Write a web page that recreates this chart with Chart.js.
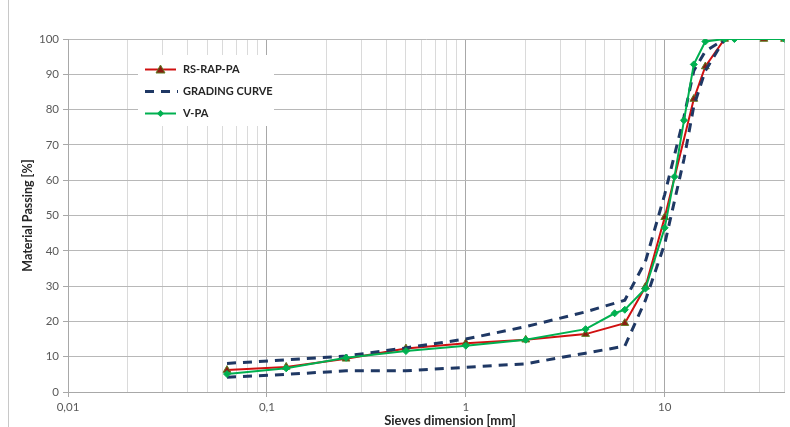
<!DOCTYPE html>
<html>
<head>
<meta charset="utf-8">
<script src="https://cdn.jsdelivr.net/npm/chart.js@4/dist/chart.umd.min.js"></script>
<style>
  html, body { margin: 0; padding: 0; background: #ffffff; }
  #wrap { position: relative; width: 790px; height: 427px; overflow: hidden; }
  #frame { position: absolute; left: 8px; top: 0; width: 1px; height: 427px; background: #c8c8c8; }
  canvas { position: absolute; left: 0; top: 0; }
</style>
</head>
<body>
<div id="wrap">
  <canvas id="c" width="790" height="427"></canvas>
  <div id="frame"></div>
</div>
<script>
// ---- data ----
const seriesNames = ['RS-RAP-PA', 'GRADING CURVE', 'V-PA'];

const rsSieves  = [0.063, 0.125, 0.25, 0.5, 1, 2, 4, 6.3, 8, 10, 14, 16, 20, 31.5, 40];
const rsPassing = [6.2, 7.1, 9.4, 12.3, 13.8, 14.8, 16.4, 19.5, 29.8, 49.5, 83, 92.2, 100, 100, 100];

const vpaSieves  = [0.063, 0.125, 0.25, 0.5, 1, 2, 4, 5.6, 6.3, 8, 10, 11.2, 12.5, 14, 16, 20, 22.4, 40];
const vpaPassing = [5.1, 6.7, 9.7, 11.6, 13.1, 14.8, 17.8, 22.3, 23.3, 29.3, 46.5, 61, 77, 92.8, 99.3, 100, 100, 100];

const gradingSieves = [0.063, 0.125, 0.25, 0.5, 1, 2, 4, 6.3, 8, 10, 12.5, 14, 16, 20];
const gradingUpper  = [8.1, 9.1, 10.2, 12.5, 15, 18.5, 22.7, 26, 37, 56, 78, 91, 96.5, 100];
const gradingLower  = [4.2, 5, 6, 6, 7, 8, 11, 13, 26, 42, 66, 81, 91, 100];

const xTickValues = [0.01, 0.1, 1, 10];
const xTickLabels = ['0,01', '0,1', '1', '10'];
const xTitle = 'Sieves dimension [mm]';
const yTitle = 'Material Passing [%]';
const xMin = 0.01, xMax = 40;
const yMin = 0, yMax = 100, yStep = 10;

// ---- helpers ----
const pts = (xs, ys) => xs.map((x, i) => ({ x: x, y: ys[i] }));
const isDecade = v => Math.abs(Math.log10(v) - Math.round(Math.log10(v))) < 1e-9;

const RED = '#d01010';
const GREEN = '#00b050';
const NAVY = '#1f3864';
const FONT = 'Lato, "Open Sans", "Liberation Sans", sans-serif';

const legendPlugin = {
  id: 'boxLegend',
  afterDraw(chart) {
    const ctx = chart.ctx;
    ctx.save();
    ctx.fillStyle = '#ffffff';
    ctx.fillRect(138, 55, 136, 71);
    const rows = [69.5, 91.5, 113.5];
    const x0 = 145, x1 = 176;
    ctx.lineCap = 'butt';
    // RS-RAP-PA
    ctx.strokeStyle = RED; ctx.lineWidth = 2; ctx.setLineDash([]);
    ctx.beginPath(); ctx.moveTo(x0, rows[0]); ctx.lineTo(x1, rows[0]); ctx.stroke();
    ctx.fillStyle = '#8b1a10'; ctx.strokeStyle = '#5e7d22'; ctx.lineWidth = 1;
    ctx.beginPath();
    ctx.moveTo(160.5, rows[0] - 4.5); ctx.lineTo(165, rows[0] + 3.5); ctx.lineTo(156, rows[0] + 3.5); ctx.closePath();
    ctx.fill(); ctx.stroke();
    // GRADING CURVE
    ctx.strokeStyle = NAVY; ctx.lineWidth = 3; ctx.setLineDash([9, 7]);
    ctx.beginPath(); ctx.moveTo(x0, rows[1]); ctx.lineTo(x1 + 2, rows[1]); ctx.stroke();
    ctx.setLineDash([]);
    // V-PA
    ctx.strokeStyle = GREEN; ctx.lineWidth = 2;
    ctx.beginPath(); ctx.moveTo(x0, rows[2]); ctx.lineTo(x1, rows[2]); ctx.stroke();
    ctx.fillStyle = GREEN;
    ctx.beginPath();
    ctx.moveTo(160.5, rows[2] - 3.5); ctx.lineTo(164, rows[2]); ctx.lineTo(160.5, rows[2] + 3.5); ctx.lineTo(157, rows[2]); ctx.closePath();
    ctx.fill();
    // text
    ctx.fillStyle = '#262626';
    ctx.font = 'bold 11px ' + FONT;
    ctx.textBaseline = 'middle';
    ctx.textAlign = 'left';
    seriesNames.forEach((n, i) => ctx.fillText(n, 183, rows[i]));
    // x axis title (the original chart is cropped on the right, so its title sits right of the visible centre)
    ctx.font = 'bold 13px ' + FONT;
    ctx.textAlign = 'center';
    ctx.fillText(xTitle, 450, 421);
    ctx.restore();
  }
};

const xTicks = [];
for (let e = -2; e <= 1; e++) {
  for (let s = 1; s <= 9; s++) {
    const v = parseFloat((s * Math.pow(10, e)).toPrecision(3));
    if (v <= xMax) xTicks.push(v);
  }
}

new Chart(document.getElementById('c'), {
  type: 'line',
  data: {
    datasets: [
      {
        label: seriesNames[2], data: pts(vpaSieves, vpaPassing),
        borderColor: GREEN, backgroundColor: GREEN, borderWidth: 2,
        pointStyle: 'rectRot', pointRadius: 3.5, pointBackgroundColor: GREEN, pointBorderColor: GREEN, pointBorderWidth: 1,
        tension: 0, order: 0
      },
      {
        label: seriesNames[1], data: pts(gradingSieves, gradingUpper),
        borderColor: NAVY, borderWidth: 3, borderDash: [9, 7], pointRadius: 0, tension: 0, order: 1
      },
      {
        label: seriesNames[1] + ' (lower)', data: pts(gradingSieves, gradingLower),
        borderColor: NAVY, borderWidth: 3, borderDash: [9, 7], pointRadius: 0, tension: 0, order: 1
      },
      {
        label: seriesNames[0], data: pts(rsSieves, rsPassing),
        borderColor: RED, backgroundColor: RED, borderWidth: 2,
        pointStyle: 'triangle', pointRadius: 4.5, pointBackgroundColor: '#8b1a10', pointBorderColor: '#5e7d22', pointBorderWidth: 1,
        tension: 0, order: 2
      }
    ]
  },
  options: {
    responsive: false,
    animation: false,
    layout: { padding: { left: 20, top: 39, right: 0, bottom: 0 } },
    plugins: { legend: { display: false }, tooltip: { enabled: false } },
    scales: {
      x: {
        type: 'logarithmic', min: xMin, max: xMax,
        afterBuildTicks: (scale) => { scale.ticks = xTicks.map(v => ({ value: v })); },
        afterFit: (scale) => { scale.height = 35; },
        ticks: {
          autoSkip: false, maxRotation: 0, minRotation: 0, padding: 3,
          color: '#595959', font: { family: FONT, size: 11.5 },
          callback: (v) => { const i = xTickValues.findIndex(t => Math.abs(t - v) < 1e-9); return i >= 0 ? xTickLabels[i] : ''; }
        },
        grid: {
          color: (c) => (c.tick && isDecade(c.tick.value)) ? '#a8a8a8' : '#dadada',
          lineWidth: 1, tickLength: 5,
          tickColor: (c) => (c.tick && isDecade(c.tick.value)) ? '#a8a8a8' : 'rgba(0,0,0,0)'
        },
        border: { color: '#a8a8a8' },
        title: { display: false }
      },
      y: {
        min: yMin, max: yMax,
        afterFit: (scale) => { scale.width = 48; },
        ticks: { stepSize: yStep, padding: 4, color: '#595959', font: { family: FONT, size: 11.5 } },
        grid: { color: '#b8b8b8', lineWidth: 1, tickLength: 5, tickColor: '#a8a8a8' },
        border: { color: '#a8a8a8' },
        title: { display: true, text: yTitle, color: '#262626', font: { family: FONT, size: 12.5, weight: 'bold' }, padding: { top: 0, bottom: 4 } }
      }
    }
  },
  plugins: [legendPlugin]
});
</script>
</body>
</html>
